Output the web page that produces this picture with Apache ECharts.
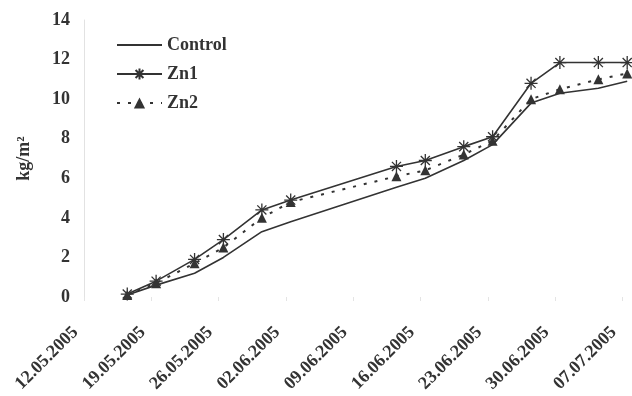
<!DOCTYPE html>
<html>
<head>
<meta charset="utf-8">
<script src="https://cdn.jsdelivr.net/npm/echarts@6/dist/echarts.min.js"></script>
<style>
  html, body { margin: 0; padding: 0; background: #fff; }
  #chart { width: 632px; height: 396px; }
</style>
</head>
<body>
<div id="chart"></div>
<script>
// Sampling dates and yields (kg/m²)
const sampleDates = ['16.05.2005', '19.05.2005', '23.05.2005', '26.05.2005', '30.05.2005', '02.06.2005', '13.06.2005',
                     '16.06.2005', '20.06.2005', '23.06.2005', '27.06.2005', '30.06.2005', '04.07.2005', '07.07.2005'];
const control = [0.1, 0.6, 1.2, 2.0, 3.3, 3.8, 5.55, 6.0, 6.9, 7.7, 9.8, 10.3, 10.55, 10.9];
const zn1     = [0.15, 0.8, 1.9, 2.9, 4.4, 4.9, 6.6, 6.9, 7.6, 8.1, 10.8, 11.85, 11.85, 11.85];
const zn2     = [0.1, 0.7, 1.7, 2.5, 4.0, 4.8, 6.1, 6.4, 7.2, 7.9, 10.0, 10.5, 11.0, 11.3];

// Weekly tick labels on the date axis
const tickLabels = ['12.05.2005', '19.05.2005', '26.05.2005', '02.06.2005', '09.06.2005',
                    '16.06.2005', '23.06.2005', '30.06.2005', '07.07.2005'];
const yTicks = [0, 2, 4, 6, 8, 10, 12, 14];

// Days since the first tick; each sample sits in the middle of its day
function toDay(s) {
  const [d, m, y] = s.split('.').map(Number);
  return Date.UTC(y, m - 1, d) / 86400000;
}
const day0 = toDay(tickLabels[0]);
const xs = sampleDates.map(s => toDay(s) - day0 + 0.5);
const pairs = vals => vals.map((v, i) => [xs[i], v]);

const FONT = '"Liberation Serif", "Times New Roman", serif';
const INK = '#333';
const asterisk = 'path://M5,0L5,10M0,5L10,5M1.5,1.5L8.5,8.5M1.5,8.5L8.5,1.5';

const chart = echarts.init(document.getElementById('chart'), null, { renderer: 'canvas' });
chart.setOption({
  animation: false,
  backgroundColor: '#fff',
  textStyle: { fontFamily: FONT },
  grid: { left: 84, top: 20, width: 560, height: 277 },
  legend: {
    orient: 'vertical',
    left: 111,
    top: 31,
    itemWidth: 45,
    itemHeight: 14,
    itemGap: 11,
    textStyle: { fontFamily: FONT, fontSize: 18, fontWeight: 'bold', color: INK },
    data: ['Control', 'Zn1', 'Zn2']
  },
  xAxis: {
    type: 'value',
    min: 0,
    max: 57,
    interval: 7,
    splitLine: { show: false },
    axisLine: { show: false },
    axisTick: { show: true, length: 4, lineStyle: { color: '#e4e4e4' } },
    axisLabel: {
      rotate: 45,
      margin: 24,
      padding: [0, 12, 0, 0],
      fontFamily: FONT,
      fontSize: 18,
      fontWeight: 'bold',
      color: INK,
      showMaxLabel: false,
      formatter: v => (v % 7 === 0 ? (tickLabels[v / 7] || '') : '')
    }
  },
  yAxis: {
    type: 'value',
    min: yTicks[0],
    max: yTicks[yTicks.length - 1],
    interval: 2,
    name: 'kg/m²',
    nameLocation: 'middle',
    nameRotate: 90,
    nameGap: 51,
    nameTextStyle: { fontFamily: FONT, fontSize: 18, fontWeight: 'bold', color: INK },
    splitLine: { show: false },
    axisLine: { show: true, lineStyle: { color: '#e2e2e2', width: 1 } },
    axisTick: { show: false },
    axisLabel: { margin: 14, fontFamily: FONT, fontSize: 18, fontWeight: 'bold', color: INK }
  },
  series: [
    {
      name: 'Control',
      type: 'line',
      data: pairs(control),
      symbol: 'circle',
      showSymbol: false,
      lineStyle: { color: INK, width: 1.6 },
      // transparent mark so the legend entry is a plain line
      itemStyle: { color: 'rgba(0,0,0,0)', borderWidth: 0 }
    },
    {
      name: 'Zn1',
      type: 'line',
      data: pairs(zn1),
      symbol: asterisk,
      symbolSize: 13,
      lineStyle: { color: INK, width: 1.6 },
      itemStyle: { color: INK, borderColor: INK, borderWidth: 1.3 }
    },
    {
      name: 'Zn2',
      type: 'line',
      data: pairs(zn2),
      symbol: 'triangle',
      symbolSize: 10,
      lineStyle: { color: INK, width: 2, type: [3, 8] },
      itemStyle: { color: INK }
    }
  ]
});
</script>
</body>
</html>
